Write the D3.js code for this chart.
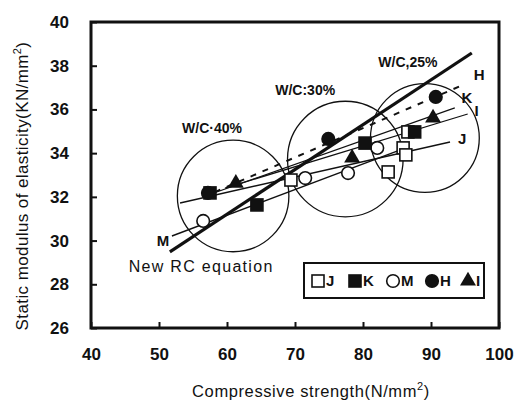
<!doctype html>
<html>
<head>
<meta charset="utf-8">
<title>Static modulus vs compressive strength</title>
<style>
  body { margin: 0; background: #fff; }
  svg text { font-family: "Liberation Sans", Arial, sans-serif; fill: #111; }
</style>
</head>
<body>
<div id="chart"></div>
<script src="https://d3js.org/d3.v7.min.js"></script>
<script>
// axis ticks
var xTicks = [40, 50, 60, 70, 80, 90, 100];
var yTicks = [26, 28, 30, 32, 34, 36, 38, 40];

// measured points (compressive strength, modulus)
var jPoints = [[69.4, 32.77], [83.7, 33.14], [86.6, 34.97], [85.9, 34.24], [86.3, 33.92]];
var kPoints = [[57.5, 32.18], [64.4, 31.63], [80.3, 34.46], [87.6, 34.97]];
var mPoints = [[56.5, 30.9], [71.5, 32.86], [77.8, 33.09], [82.1, 34.24]];
var hPoints = [[57.2, 32.18], [74.9, 34.65], [90.7, 36.57]];
var iPoints = [[61.3, 32.63], [78.4, 33.78], [90.3, 35.61]];

// regression lines, end points
var lineNames = ["New RC equation", "H", "K", "I", "J", "M"];
var lineStarts = [[51.6, 29.48], [58.2, 32.22], [56.8, 32.04], [59.7, 32.4], [53.1, 31.72], [51.9, 30.21]];
var lineEnds = [[96.0, 38.58], [95.0, 37.16], [93.5, 36.07], [95.4, 35.79], [92.8, 34.51], [85.4, 34.14]];

// W/C groups
var groupLabels = ["W/C\u00b740%", "W/C:30%", "W/C,25%"];
var groupCentres = [[60.9, 32.04], [77.4, 33.73], [89.1, 34.69]];
var groupRadius = [8.2, 8.5, 8.0]; // in strength units
var groupLabelPos = [[57.8, 35.15], [71.5, 36.9], [86.6, 38.17]];

var W = 528, H = 404;
var x = d3.scaleLinear().domain([40, 100]).range([91, 499]);
var y = d3.scaleLinear().domain([26, 40]).range([328, 22]);

var svg = d3.select("#chart").append("svg").attr("width", W).attr("height", H);

// group circles
svg.selectAll("circle.grp").data(groupCentres).enter().append("circle")
  .attr("class", "grp")
  .attr("cx", function(d) { return x(d[0]); })
  .attr("cy", function(d) { return y(d[1]); })
  .attr("r", function(d, i) { return x(40 + groupRadius[i]) - x(40); })
  .attr("fill", "none").attr("stroke", "#111").attr("stroke-width", 1.3);

svg.selectAll("text.grp").data(groupLabelPos).enter().append("text")
  .attr("class", "grp")
  .attr("x", function(d) { return x(d[0]); })
  .attr("y", function(d) { return y(d[1]); })
  .attr("text-anchor", "middle").attr("dy", "0.35em")
  .attr("font-size", 14).attr("font-weight", "bold")
  .text(function(d, i) { return groupLabels[i]; });

// lines
var line = d3.line().x(function(d) { return x(d[0]); }).y(function(d) { return y(d[1]); });
var lineWidth = [3.2, 2, 1.2, 1.2, 1.4, 1.4];
var lineDash = [null, "6,7", null, null, null, null];
lineNames.forEach(function(n, i) {
  svg.append("path").attr("d", line([lineStarts[i], lineEnds[i]]))
    .attr("fill", "none").attr("stroke", "#111")
    .attr("stroke-width", lineWidth[i])
    .attr("stroke-dasharray", lineDash[i]);
});

// line labels
var tagStyle = function(t) { t.attr("font-size", 15).attr("font-weight", "bold").attr("dy", "0.35em"); };
var tags = [["H", 97.1, 37.6], ["K", 95.3, 36.55], ["I", 96.7, 35.95], ["J", 94.6, 34.65], ["M", 50.6, 30.0]];
tags.forEach(function(t) {
  svg.append("text").attr("x", x(t[1])).attr("y", y(t[2])).attr("text-anchor", "middle").text(t[0]).call(tagStyle);
});
svg.append("text").attr("x", x(56.2)).attr("y", y(28.8)).attr("text-anchor", "middle")
  .attr("font-size", 16).attr("dy", "0.35em").attr("letter-spacing", 1.3)
  .text("New RC equation");

// markers
function square(g, pts, filled) {
  g.selectAll(null).data(pts).enter().append("rect")
    .attr("x", function(d) { return x(d[0]) - 6; })
    .attr("y", function(d) { return y(d[1]) - 6; })
    .attr("width", 12).attr("height", 12)
    .attr("fill", filled ? "#111" : "#fff").attr("stroke", "#111").attr("stroke-width", 1.6);
}
function dot(g, pts, filled) {
  g.selectAll(null).data(pts).enter().append("circle")
    .attr("cx", function(d) { return x(d[0]); })
    .attr("cy", function(d) { return y(d[1]); })
    .attr("r", 6.3)
    .attr("fill", filled ? "#111" : "#fff").attr("stroke", "#111").attr("stroke-width", 1.6);
}
var tri = d3.symbol().type(d3.symbolTriangle).size(110);
var g = svg.append("g");
square(g, jPoints, false);
dot(g, mPoints, false);
square(g, kPoints, true);
dot(g, hPoints, true);
g.selectAll(null).data(iPoints).enter().append("path")
  .attr("d", tri)
  .attr("transform", function(d) { return "translate(" + x(d[0]) + "," + y(d[1]) + ")"; })
  .attr("fill", "#111");

// frame
svg.append("rect").attr("x", 91).attr("y", 22).attr("width", 408).attr("height", 306)
  .attr("fill", "none").attr("stroke", "#111").attr("stroke-width", 3);

// inward ticks
var xAxis = d3.axisBottom(x).tickValues(xTicks).tickSize(-6).tickPadding(20).tickFormat(d3.format("d"));
var yAxis = d3.axisLeft(y).tickValues(yTicks).tickSize(-6).tickPadding(22).tickFormat(d3.format("d"));
var gx = svg.append("g").attr("transform", "translate(0,328)").call(xAxis);
var gy = svg.append("g").attr("transform", "translate(91,0)").call(yAxis);
[gx, gy].forEach(function(a) {
  a.select(".domain").remove();
  a.selectAll("line").attr("stroke", "#111").attr("stroke-width", 2);
  a.selectAll("text").attr("font-size", 17).attr("font-weight", "bold")
    .attr("font-family", "Liberation Sans, Arial, sans-serif").attr("fill", "#222");
});

// legend
var leg = svg.append("g");
leg.append("rect").attr("x", 304).attr("y", 263).attr("width", 180).attr("height", 35)
  .attr("fill", "#fff").attr("stroke", "#111").attr("stroke-width", 2);
var legNames = ["J", "K", "M", "H", "I"];
var legX = [318, 355, 393, 432, 468];
var ly = 281;
square(leg, [[x.invert(legX[0]), y.invert(ly)]], false);
square(leg, [[x.invert(legX[1]), y.invert(ly)]], true);
dot(leg, [[x.invert(legX[2]), y.invert(ly)]], false);
dot(leg, [[x.invert(legX[3]), y.invert(ly)]], true);
leg.append("path").attr("d", tri).attr("transform", "translate(" + legX[4] + "," + ly + ")").attr("fill", "#111");
legNames.forEach(function(n, i) {
  leg.append("text").attr("x", legX[i] + 8).attr("y", ly).attr("dy", "0.36em")
    .attr("font-size", 15).attr("font-weight", "bold").text(n);
});

// axis titles
var xt = svg.append("text").attr("x", 311).attr("y", 397).attr("text-anchor", "middle")
  .attr("font-size", 16.5).attr("letter-spacing", 0.6).attr("fill", "#222").text("Compressive strength(N/mm");
xt.append("tspan").attr("font-size", 11).attr("dy", -7).text("2");
xt.append("tspan").attr("dy", 7).text(")");

var yt = svg.append("text").attr("transform", "translate(28,186) rotate(-90)").attr("text-anchor", "middle")
  .attr("font-size", 17).attr("letter-spacing", 0.4).attr("fill", "#222").text("Static modulus of elasticity(KN/mm");
yt.append("tspan").attr("font-size", 11).attr("dy", -7).text("2");
yt.append("tspan").attr("dy", 7).text(")");
</script>
</body>
</html>
